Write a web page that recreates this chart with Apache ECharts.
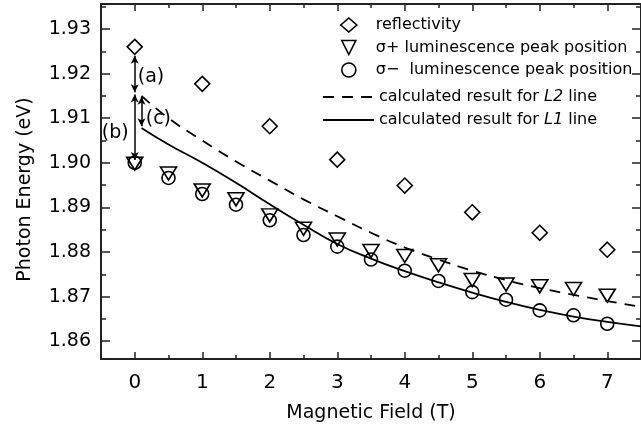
<!DOCTYPE html>
<html><head><meta charset="utf-8">
<script src="https://cdn.jsdelivr.net/npm/echarts@6/dist/echarts.min.js"></script>
<style>html,body{margin:0;padding:0;background:#fff}#c{width:641px;height:429px}</style>
</head><body><div id="c"></div>
<script>
const fieldReflect = [0, 1, 2, 3, 4, 5, 6, 7];
const reflectivity = [1.9260, 1.9177, 1.9082, 1.9007, 1.8949, 1.8889, 1.8843, 1.8805];
const fieldLum = [0, 0.5, 1, 1.5, 2, 2.5, 3, 3.5, 4, 4.5, 5, 5.5, 6, 6.5, 7];
const sigmaPlus = [1.8998, 1.8976, 1.8938, 1.8918, 1.8882, 1.8852, 1.8828, 1.8802, 1.8791, 1.8770, 1.8737, 1.8727, 1.8723, 1.8717, 1.8702];
const sigmaMinus = [1.9000, 1.8966, 1.8930, 1.8906, 1.8871, 1.8838, 1.8812, 1.8783, 1.8758, 1.8735, 1.8710, 1.8693, 1.8669, 1.8658, 1.8639];
const fieldCalc = [0.1, 0.5, 1, 1.5, 2, 2.5, 3, 3.5, 4, 4.5, 5, 5.5, 6, 6.5, 7, 7.5];
const calcL2 = [1.9150, 1.9100, 1.9050, 1.9003, 1.8960, 1.8918, 1.8880, 1.8843, 1.8810, 1.8783, 1.8758, 1.8737, 1.8719, 1.8704, 1.8690, 1.8677];
const calcL1 = [1.9078, 1.9041, 1.9000, 1.8955, 1.8907, 1.8861, 1.8818, 1.8785, 1.8757, 1.8732, 1.8709, 1.8688, 1.8670, 1.8655, 1.8643, 1.8633];
const seriesNames = ['reflectivity', 'σ+ luminescence peak position', 'σ−  luminescence peak position', 'calculated result for L2 line', 'calculated result for L1 line'];
// annotation arrows: [x1, y1, x2, y2]
const arrowSegs = [[0, 1.9240, 0, 1.9158], [0, 1.9153, 0, 1.9006], [0.1, 1.9148, 0.1, 1.9082]];
const noteText = ['(a)', '(b)', '(c)'];
const noteX = [0.24, -0.29, 0.35];
const noteY = [1.9193, 1.9066, 1.9097];
const xMin = -0.5, xMax = 7.5, yMin = 1.856, yMax = 1.9356;

const FONT = 'DejaVu Sans';
const ink = '#000';
const axisCol = '#222';
const zip = (xs, ys) => xs.map((x, i) => [x, ys[i]]);

const chart = echarts.init(document.getElementById('c'), null, {renderer: 'canvas'});

function xAx(pos, showLabel) {
  return {
    type: 'value', position: pos, min: xMin, max: xMax, splitNumber: 8,
    name: showLabel ? 'Magnetic Field (T)' : '', nameLocation: 'middle', nameGap: 45,
    nameTextStyle: {fontFamily: FONT, fontSize: 19, color: ink},
    axisLine: {show: true, onZero: false, lineStyle: {color: axisCol, width: 2}},
    axisTick: {show: true, inside: true, length: 7, lineStyle: {color: axisCol, width: 1.5}},
    minorTick: {show: true, splitNumber: 2, length: 4, lineStyle: {color: axisCol, width: 1.5}},
    axisLabel: {show: showLabel, margin: 14, fontFamily: FONT, fontSize: 20, color: ink, showMinLabel: false, showMaxLabel: false},
    splitLine: {show: false}, minorSplitLine: {show: false}
  };
}
function yAx(pos, showLabel) {
  return {
    type: 'value', position: pos, min: yMin, max: yMax, splitNumber: 8,
    name: showLabel ? 'Photon Energy (eV)' : '', nameLocation: 'middle', nameGap: 66,
    nameTextStyle: {fontFamily: FONT, fontSize: 19, color: ink, padding: [0, 16, 0, 0]},
    axisLine: {show: true, onZero: false, lineStyle: {color: axisCol, width: 2}},
    axisTick: {show: true, inside: true, length: 9, lineStyle: {color: axisCol, width: 1.5}},
    minorTick: {show: true, splitNumber: 2, length: 5, lineStyle: {color: axisCol, width: 1.5}},
    axisLabel: {show: showLabel, margin: 10, fontFamily: FONT, fontSize: 19, color: ink, showMinLabel: false, showMaxLabel: false,
      formatter: v => v.toFixed(2)},
    splitLine: {show: false}, minorSplitLine: {show: false}
  };
}

const symStyle = {color: 'rgba(255,255,255,0)', borderColor: ink, borderWidth: 1.6, opacity: 1};
const richText = {n: {fontFamily: FONT, fontSize: 16, color: ink}, i: {fontFamily: FONT, fontSize: 16, color: ink, fontStyle: 'italic'}};
const fmt = name => name.replace(/(L[12])/, '{i|$1}').replace(/^([^{]*)\{/, '{n|$1}{').replace(/\}([^{}]*)$/, '}{n|$1}');
const hiddenSym = {color: 'rgba(0,0,0,0)', borderWidth: 0, borderColor: 'rgba(0,0,0,0)'};

chart.setOption({
  animation: false,
  backgroundColor: '#fff',
  grid: {left: 101, top: 4, width: 543, height: 355, containLabel: false},
  xAxis: [xAx('bottom', true), xAx('top', false)],
  yAxis: [yAx('left', true), yAx('right', false)],
  legend: [
    {orient: 'vertical', left: 340, top: 17, itemWidth: 16, itemHeight: 14, itemGap: 6.5, padding: 0, selectedMode: false,
      symbolKeepAspect: true,
      textStyle: {fontFamily: FONT, fontSize: 16, color: ink, lineHeight: 16, padding: [0, 0, 0, 14]},
      itemStyle: {color: 'rgba(255,255,255,0)', borderColor: ink, borderWidth: 1.6, opacity: 1},
      data: [
        {name: seriesNames[0], icon: 'diamond'},
        {name: seriesNames[1], icon: 'path://M-1,-1 L1,-1 L0,1 Z'},
        {name: seriesNames[2], icon: 'circle'}
      ]},
    {orient: 'vertical', left: 322, top: 89, itemWidth: 51, itemHeight: 14, itemGap: 7, padding: 0, selectedMode: false,
      textStyle: {fontFamily: FONT, fontSize: 16, color: ink, lineHeight: 16, rich: richText},
      formatter: fmt,
      data: [
        {name: seriesNames[3], itemStyle: hiddenSym},
        {name: seriesNames[4], itemStyle: hiddenSym}
      ]}
  ],
  series: [
    {name: seriesNames[4], type: 'line', data: zip(fieldCalc, calcL1), symbol: 'none', smooth: true,
      lineStyle: {color: ink, width: 1.8, type: 'solid'}, itemStyle: {color: ink}, z: 2},
    {name: seriesNames[3], type: 'line', data: zip(fieldCalc, calcL2), symbol: 'none', smooth: true,
      lineStyle: {color: ink, width: 1.8, type: [11, 8]}, itemStyle: {color: ink}, z: 2},
    {name: seriesNames[0], type: 'scatter', data: zip(fieldReflect, reflectivity), symbol: 'diamond', symbolSize: 15,
      itemStyle: symStyle, z: 3},
    {name: seriesNames[2], type: 'scatter', data: zip(fieldLum, sigmaMinus), symbol: 'circle', symbolSize: 13,
      itemStyle: symStyle, z: 3},
    {name: seriesNames[1], type: 'scatter', data: zip(fieldLum, sigmaPlus), symbol: 'triangle', symbolRotate: 180, symbolSize: [16, 13],
      itemStyle: symStyle, z: 4},
    {name: 'notes', type: 'scatter', data: noteX.map((x, i) => ({value: [x, noteY[i]], label: {formatter: noteText[i]}})),
      symbolSize: 1, itemStyle: {color: 'rgba(0,0,0,0)', opacity: 1}, silent: true, z: 5,
      label: {show: true, position: 'inside', fontFamily: FONT, fontSize: 19, color: ink},
      markLine: {silent: true, symbol: ['arrow', 'arrow'], symbolSize: [6, 8], precision: 4,
        lineStyle: {color: ink, width: 1.5, type: 'solid', opacity: 1}, label: {show: false},
        data: arrowSegs.map(s => [{coord: [s[0], s[1]]}, {coord: [s[2], s[3]]}])}
    }
  ]
});
</script></body></html>
